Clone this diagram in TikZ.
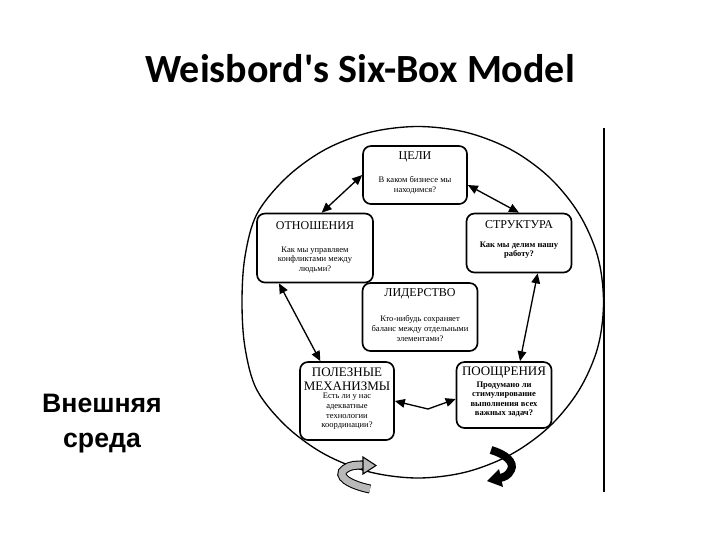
\documentclass[tikz,border=0pt]{standalone}
\usepackage{fontspec}
\setmainfont{Liberation Serif}
\newfontfamily\titlefont{Carlito}
\newfontfamily\labelfont{Liberation Sans}
\usetikzlibrary{arrows.meta}
\begin{document}
\begin{tikzpicture}[x=0.75pt,y=-0.75pt,
  box/.style={draw,line width=1.25pt,rounded corners=6pt,inner sep=0pt},
  ttl/.style={font=\fontsize{9}{10}\selectfont, inner sep=0pt, align=center},
  bigttl/.style={font=\fontsize{9.75}{10.5}\selectfont, inner sep=0pt, align=center},
  body/.style={font=\fontsize{6.4}{7.2}\selectfont, inner sep=0pt, align=center},
  boldbody/.style={body, font=\fontsize{6.4}{7.2}\selectfont\bfseries},
  biarrow/.style={line width=1pt, {Triangle[length=7.5pt,width=6.5pt]}-{Triangle[length=7.5pt,width=6.5pt]}}
]
\useasboundingbox (0,0) rectangle (720,540);

% title
\node[anchor=base, inner sep=0pt, font=\titlefont\bfseries\fontsize{30}{36}\selectfont] (title) at (360,82) {Weisbord's Six-Box Model};

% environment label
\node[anchor=base, inner sep=0pt, align=center, font=\labelfont\bfseries\fontsize{20}{26.25}\selectfont] (env) at (102,447) {Внешняя\\среда};

% outer circle (flattened on the left like the scan) and frame line
\draw[line width=1pt] plot[smooth cycle, tension=0.55] coordinates {
  (418,126.5) (466.1,132.3) (511,149.6) (549.5,177.5) (579.1,214) (597.7,256.4)
  (603.5,302) (597.7,347.6) (579.1,390) (549.5,426.5) (511,454.4) (466.1,472)
  (418,478) (369.9,472) (325,454.4) (286.5,426.5) (256.9,390) (245,347.6)
  (242,302) (245,256.4) (256.9,214) (286.5,177.5) (325,149.6) (369.9,132.3)};
\draw[line width=1.2pt] (604,128) -- (604,492);

% boxes
\node[box, minimum width=78pt, minimum height=43.5pt] (goals) at (415,175) {};
\node[ttl] (goalsT) at (415,157) {ЦЕЛИ};
\node[body] (goalsB) at (415,185.5) {В каком бизнесе мы\\находимся?};

\node[box, minimum width=87pt, minimum height=51.75pt] (rel) at (315,248) {};
\node[ttl] (relT) at (315,226) {ОТНОШЕНИЯ};
\node[body] (relB) at (315,260) {Как мы управляем\\конфликтами между\\людьми?};

\node[box, minimum width=78.75pt, minimum height=44.25pt] (struct) at (519,243) {};
\node[ttl] (structT) at (519,225) {СТРУКТУРА};
\node[boldbody] (structB) at (519,250) {Как мы делим нашу\\работу?};

\node[box, minimum width=86.25pt, minimum height=51pt] (lead) at (420,317) {};
\node[ttl] (leadT) at (420,294) {ЛИДЕРСТВО};
\node[body] (leadB) at (420,328.5) {Кто-нибудь сохраняет\\баланс между отдельными\\элементами?};

\node[box, minimum width=70.5pt, minimum height=58.5pt] (mech) at (347,401) {};
\node[bigttl] (mechT) at (347,379) {ПОЛЕЗНЫЕ\\МЕХАНИЗМЫ};
\node[body] (mechB) at (347,411.5) {Есть ли у нас\\адекватные\\технологии\\координации?};

\node[box, minimum width=71.25pt, minimum height=49.5pt] (rew) at (504,395) {};
\node[bigttl] (rewT) at (504,372.5) {ПООЩРЕНИЯ};
\node[boldbody] (rewB) at (504,399.5) {Продумано ли\\стимулирование\\выполнения всех\\важных задач?};

% connectors
\draw[biarrow] (goals.west) -- ([xshift=5pt]rel.north);
\draw[biarrow] ([yshift=-7.5pt]goals.east) -- (struct.north);
\draw[biarrow] ([xshift=14pt]struct.south) -- ([xshift=12pt]rew.north);
\draw[biarrow] ([xshift=-27pt]rel.south) -- ([xshift=-20pt]mech.north);
\coordinate (zz) at (428,409);
\draw[biarrow] (mech.east) -- (zz) -- ([yshift=-3pt]rew.west);

% curled arrows at the bottom
\draw[line width=6.8pt, black] (370,489) .. controls (350,485) and (335,476) .. (345,469) .. controls (350,465) and (356,465) .. (364,465);
\draw[line width=5.2pt, gray!55] (370,489) .. controls (350,485) and (335,476) .. (345,469) .. controls (350,465) and (356,465) .. (364.5,465);
\filldraw[fill=gray!55, draw=black, line width=0.8pt] (363,457) -- (376,465.5) -- (363,474) -- cycle;

\draw[line width=6pt, black] (491,450) .. controls (505,454) and (515,462) .. (511,470) .. controls (508,476) and (504,477) .. (500,478);
\fill[black] (499,469) -- (487,481) -- (503,487) -- cycle;
\end{tikzpicture}
\end{document}
